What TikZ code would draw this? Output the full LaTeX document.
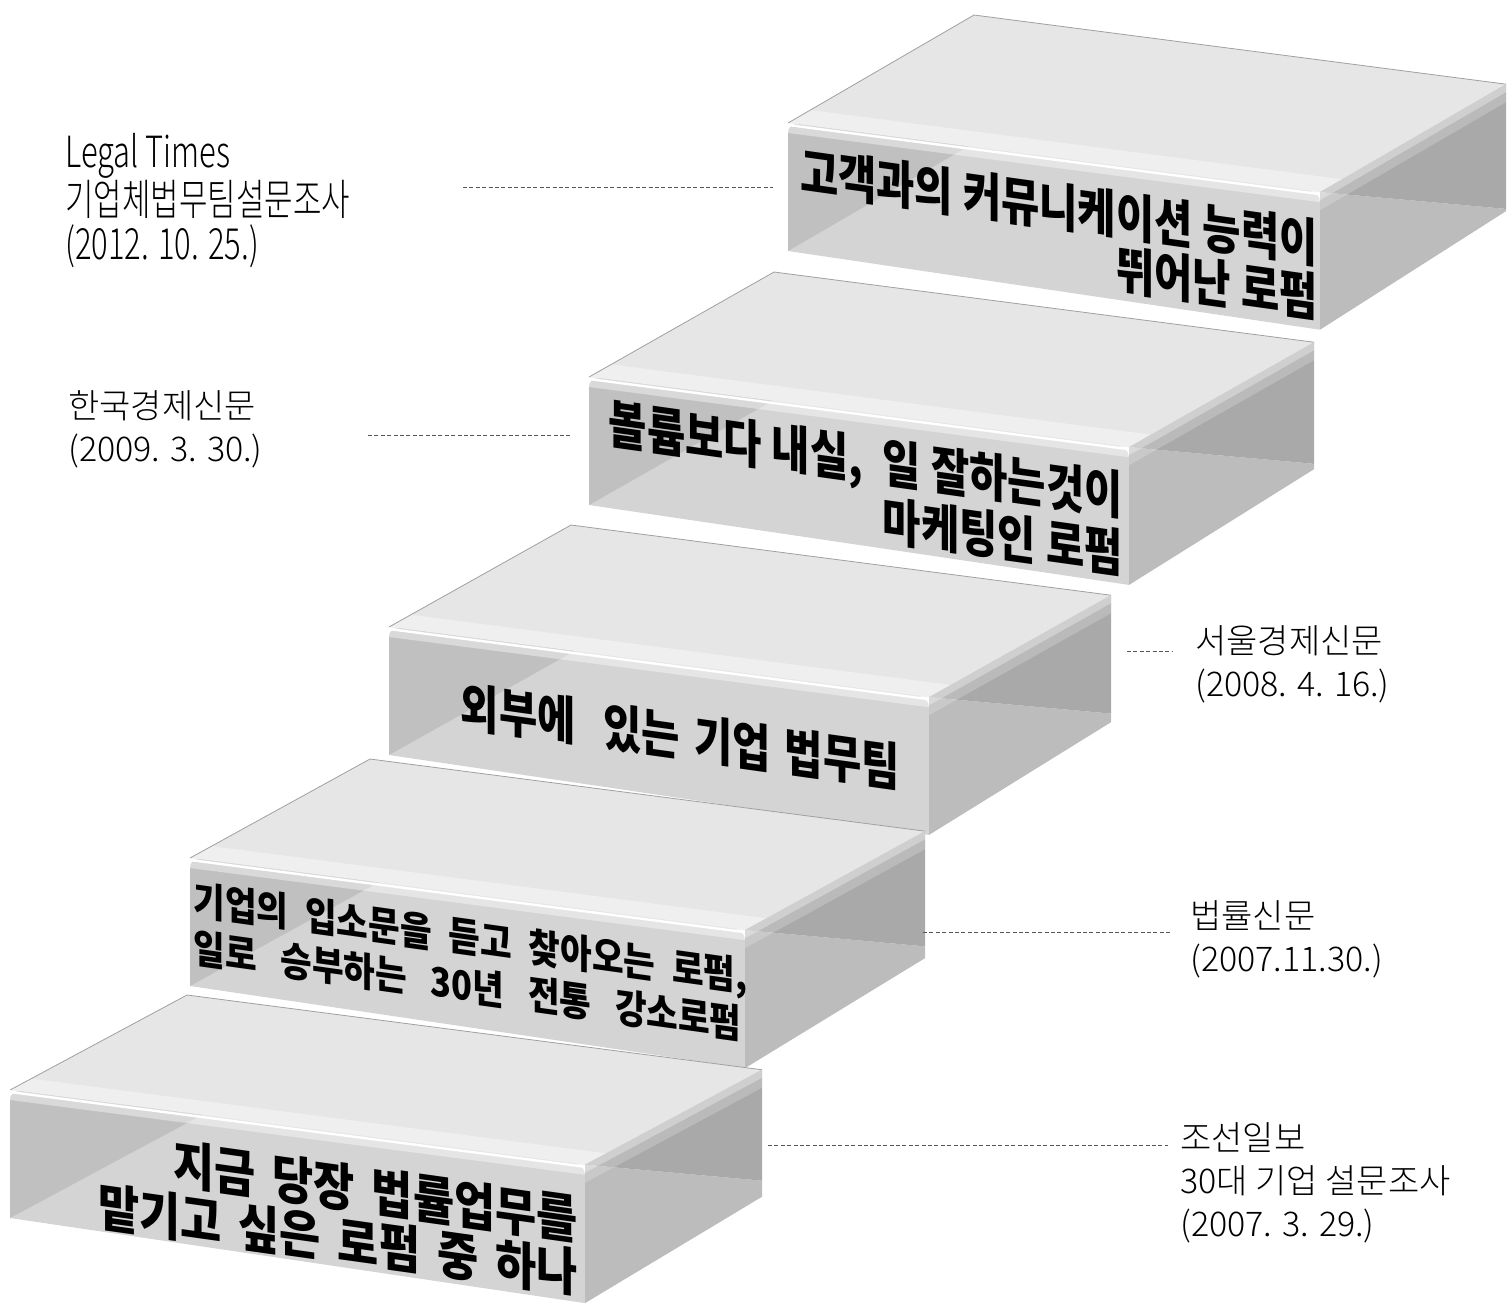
\documentclass[tikz,border=0pt]{standalone}
\usepackage{fontspec}
\newfontfamily\slabfont[FakeStretch=0.8]{Noto Sans CJK KR}
\newfontfamily\slabwide[FakeStretch=0.86]{Noto Sans CJK KR}
\IfFontExistsTF{Noto Sans CJK KR Light}
  {\newfontfamily\labfont{Noto Sans CJK KR Light}
   \newfontfamily\condfont[FakeStretch=0.72]{Noto Sans CJK KR Light}}
  {\newfontfamily\labfont{Noto Sans CJK KR}
   \newfontfamily\condfont[FakeStretch=0.72]{Noto Sans CJK KR}}

\definecolor{topgray}{HTML}{E6E6E6}
\definecolor{stripgray}{HTML}{EFEFEF}
\definecolor{frontgray}{HTML}{D4D4D4}
\definecolor{shadowgray}{HTML}{C0C0C0}
\definecolor{sidegray}{HTML}{BCBCBC}
\definecolor{sidedarkgray}{HTML}{A9A9A9}
\definecolor{rimgray}{HTML}{A0A0A0}
\definecolor{leadgray}{HTML}{555555}

\tikzset{
  topface/.style={fill=topgray},
  topstrip/.style={fill=stripgray},
  frontface/.style={fill=frontgray},
  shadeface/.style={fill=shadowgray},
  sideface/.style={fill=sidegray},
  sidedark/.style={fill=sidedarkgray},
  bevel/.style={fill=white, fill opacity=#1},
  rim/.style={draw=rimgray, line width=0.4pt},
  shine/.style={draw=white, line width=1.2pt},
  leader/.style={draw=leadgray, dash pattern=on 2pt off 1.2pt, line width=0.5pt},
  slabtext/.style={font={\slabfont\bfseries\fontsize{26}{27}\selectfont},
    execute at begin node={\spaceskip=#1\relax},
    yslant=-0.14, inner sep=0pt, align=right, anchor=south east},
  slabtext/.default=6pt,
  srclabel/.style={font={\labfont\fontsize{17}{21.5}\selectfont},
    align=left, inner sep=0pt, anchor=north west},
}

% one step: name, front top-left x, y, width, depth x, depth y (up)
\newcommand{\slab}[6]{%
  \coordinate (#1tl) at (#2,#3);
  \coordinate (#1tr) at (#2+#4,#3+0.13*#4);
  \coordinate (#1bl) at (#2,#3+128);
  \coordinate (#1br) at (#2+#4,#3+0.148*#4+128);
  \coordinate (#1kl) at (#2+#5,#3-#6);
  \coordinate (#1kr) at (#2+#4+#5,#3+0.13*#4-#6);
  \coordinate (#1kb) at (#2+#4+#5,#3+0.13*#4-#6+127);
  \coordinate (#1sp) at (#2+#4+#5,#3+0.13*#4+0.09*#5);
  \coordinate (#1dg) at ({#2+128/(#6+0.13*#5)*#5},{#3+128/(#6+0.13*#5)*0.13*#5});
  \coordinate (#1fl) at (#2+0.12*#5,#3-0.12*#6);
  \coordinate (#1fr) at (#2+#4+0.12*#5,#3+0.13*#4-0.12*#6);
  % top
  \fill[topface] (#1tl) -- (#1tr) -- (#1kr) -- (#1kl) -- cycle;
  \fill[topstrip] (#1tl) -- (#1tr) -- (#1fr) -- (#1fl) -- cycle;
  \draw[rim] (#1tl) -- (#1kl) -- (#1kr);
  % front
  \fill[frontface] (#1bl) {[rounded corners=5pt] -- (#1tl) -- (#1tr)} -- (#1br) -- cycle;
  \fill[shadeface] (#1bl) {[rounded corners=5pt] -- (#1tl)} -- (#1dg) -- cycle;
  \fill[bevel=0.4] (#1tl) -- (#1tr) -- ([yshift=-5pt]#1tr) -- ([yshift=-5pt]#1tl) -- cycle;
  \draw[shine] ([yshift=-1pt]#1tl) -- ([yshift=-1pt]#1tr);
  % side
  \fill[sideface] (#1tr) -- (#1sp) -- (#1kb) -- (#1br) -- cycle;
  \fill[sidedark] (#1tr) -- (#1kr) -- (#1sp) -- cycle;
  \fill[bevel=0.45] (#1tr) -- (#1kr) -- ([yshift=-4pt]#1kr) -- ([yshift=-4pt]#1tr) -- cycle;
  \fill[bevel=0.2] ([yshift=-4pt]#1tr) -- ([yshift=-4pt]#1kr) -- ([yshift=-9pt]#1kr) -- ([yshift=-9pt]#1tr) -- cycle;
}

\begin{document}
\begin{tikzpicture}[x=0.5pt,y=-0.5pt]
  \useasboundingbox (0,0) rectangle (1510,1303);
  % steps, back to front
  \slab{e}{788}{123}{532}{186}{108}
  \slab{d}{589}{377}{540}{185}{105}
  \slab{c}{389}{627}{540}{182}{102}
  \slab{b}{190}{858}{555}{180}{99}
  \slab{a}{10}{1090}{575}{177}{95}

  % texts on the steps
  \node[slabtext=5pt] (te) at (1318,322)
    {고객과의 커뮤니케이션 능력이\\뛰어난 로펌};
  \node[slabtext=5pt] (td) at (1123,578)
    {볼륨보다 내실,\ \ 일 잘하는것이\\마케팅인 로펌};
  \node[slabtext=7pt] (tc) at (900,792)
    {외부에\ \ 있는 기업 법무팀};
  \node[slabtext={2pt plus 30pt}, align=left,
        font={\slabwide\bfseries\fontsize{20}{24}\selectfont}] (tb) at (748,1044)
    {\makebox[277pt][s]{기업의 입소문을 듣고 찾아오는 로펌,}\\
     \makebox[277pt][s]{일로 승부하는 30년 전통 강소로펌\hspace{3pt}}};
  \node[slabtext=8.5pt, font={\slabwide\bfseries\fontsize{26}{26.5}\selectfont}]
    (ta) at (578,1298) {지금 당장 법률업무를\\맡기고 싶은 로펌 중 하나};

  % sources
  \node[srclabel, font={\condfont\fontsize{21.5}{22}\selectfont}] (se) at (65,133)
    {Legal Times\\기업체법무팀설문조사\\(2012. 10. 25.)};
  \node[srclabel] (sd) at (68,390) {한국경제신문\\(2009. 3. 30.)};
  \node[srclabel] (sc) at (1195,625) {서울경제신문\\(2008. 4. 16.)};
  \node[srclabel] (sb) at (1190,900) {법률신문\\(2007.11.30.)};
  \node[srclabel] (sa) at (1180,1122) {조선일보\\30대 기업 설문조사\\(2007. 3. 29.)};

  % leader lines
  \coordinate (le1) at (463,187);  \coordinate (le2) at (773,187);
  \coordinate (ld1) at (368,435);  \coordinate (ld2) at (570,435);
  \coordinate (lc1) at (1127,651); \coordinate (lc2) at (1172,651);
  \coordinate (lb1) at (923,932);  \coordinate (lb2) at (1170,932);
  \coordinate (la1) at (768,1145); \coordinate (la2) at (1168,1145);
  \draw[leader] (le1) -- (le2);
  \draw[leader] (ld1) -- (ld2);
  \draw[leader] (lc1) -- (lc2);
  \draw[leader] (lb1) -- (lb2);
  \draw[leader] (la1) -- (la2);
\end{tikzpicture}
\end{document}
